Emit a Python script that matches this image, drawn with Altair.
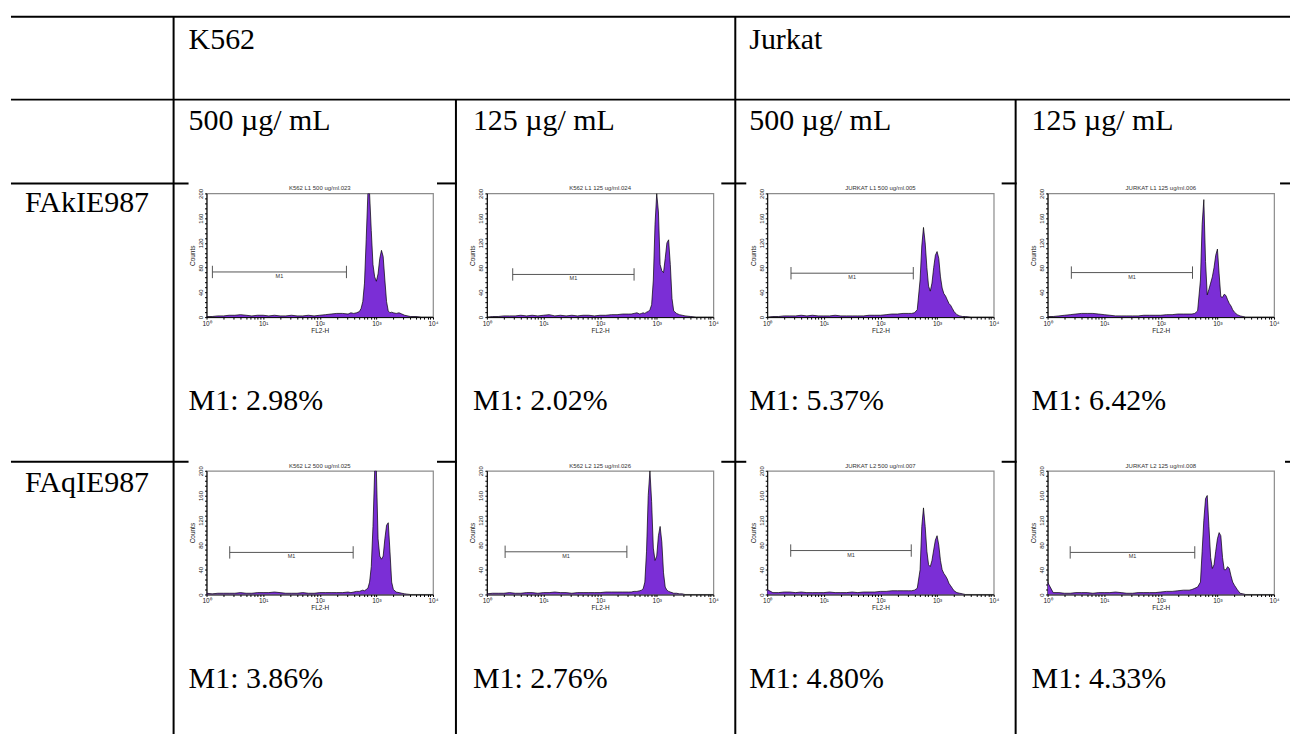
import math
import altair as alt
import pandas as pd

# ---------------- data ----------------
LOG_FL2 = [0.0, 0.1, 0.2, 0.3, 0.4, 0.5, 0.6, 0.7, 0.8, 0.9, 1.0, 1.1, 1.2, 1.3, 1.4, 1.5,
           1.6, 1.7, 1.8, 1.9, 2.0, 2.1, 2.2, 2.3, 2.4, 2.5,
           2.55, 2.6, 2.65, 2.7, 2.73, 2.76, 2.79, 2.82, 2.85, 2.88, 2.91, 2.94, 2.97,
           3.0, 3.03, 3.06, 3.09, 3.12, 3.15, 3.18, 3.21, 3.24, 3.27, 3.3,
           3.35, 3.4, 3.45, 3.5, 3.6, 3.7, 3.8, 3.9, 4.0]

K562_L1_500 = [1, 1, 2, 2, 3, 3, 4, 3, 2, 3, 3, 2, 3, 2, 2, 3, 2, 2, 3, 2, 3, 4, 5, 6, 6, 5,
               7, 6, 7, 9, 14, 25, 55, 125, 200, 200, 140, 85, 65, 58, 70, 95, 108, 98, 60, 25,
               10, 7, 8, 7, 6, 7, 5, 3, 1, 1, 0, 0, 0]
K562_L1_125 = [0, 1, 1, 2, 2, 2, 3, 2, 3, 2, 3, 4, 2, 3, 2, 3, 2, 3, 3, 2, 3, 3, 4, 4, 5, 5,
               5, 6, 7, 5, 6, 7, 6, 8, 9, 12, 20, 60, 150, 200, 170, 85, 75, 72, 95, 120,
               125, 85, 30, 10, 6, 4, 3, 2, 1, 0, 0, 0, 0]
JURKAT_L1_500 = [0, 1, 1, 2, 2, 2, 3, 2, 3, 2, 2, 2, 3, 2, 2, 2, 2, 2, 3, 3, 3, 4, 5, 5, 6, 6,
                 6, 7, 12, 60, 115, 145, 120, 80, 50, 42, 55, 80, 100, 106, 95, 65, 47, 38, 34, 28,
                 22, 19, 14, 9, 4, 2, 1, 1, 0, 0, 0, 0, 0]
JURKAT_L1_125 = [1, 1, 2, 3, 4, 5, 6, 6, 6, 5, 4, 3, 2, 2, 2, 2, 2, 3, 3, 3, 3, 4, 4, 5, 5, 5,
                 5, 6, 10, 60, 150, 190, 90, 36, 45, 55, 65, 80, 100, 110, 70, 33, 32, 37, 35, 28,
                 22, 18, 12, 8, 4, 2, 1, 0, 0, 0, 0, 0, 0]
K562_L2_500 = [2, 1, 2, 2, 2, 2, 3, 2, 2, 3, 3, 3, 4, 3, 2, 2, 2, 3, 2, 2, 3, 3, 3, 3, 3, 4,
               3, 4, 5, 5, 6, 7, 6, 8, 10, 20, 45, 110, 200, 200, 90, 62, 57, 62, 90, 112,
               116, 70, 20, 8, 4, 3, 2, 1, 0, 0, 0, 0, 0]
K562_L2_125 = [1, 2, 2, 2, 3, 2, 2, 3, 3, 2, 3, 3, 4, 3, 3, 2, 3, 3, 3, 3, 3, 4, 4, 4, 4, 4,
               4, 5, 5, 6, 7, 9, 20, 70, 160, 200, 150, 75, 55, 62, 95, 110, 85, 35, 12, 7,
               5, 4, 3, 2, 2, 1, 1, 0, 0, 0, 0, 0, 0]
JURKAT_L2_500 = [8, 3, 3, 4, 4, 3, 4, 3, 3, 3, 3, 4, 3, 3, 3, 4, 3, 4, 4, 4, 5, 5, 6, 6, 6, 6,
                 6, 7, 10, 40, 110, 140, 110, 70, 48, 45, 55, 72, 88, 95, 80, 55, 40, 34, 30, 25,
                 18, 14, 10, 6, 3, 2, 1, 0, 0, 0, 0, 0, 0]
JURKAT_L2_125 = [20, 3, 3, 2, 2, 3, 3, 3, 2, 3, 3, 3, 4, 3, 2, 2, 3, 3, 3, 3, 4, 5, 5, 6, 7, 7,
                 8, 10, 12, 20, 70, 120, 155, 160, 110, 60, 42, 48, 70, 90, 100, 95, 60, 40, 40, 45,
                 42, 30, 20, 15, 8, 2, 1, 0, 0, 0, 0, 0, 0]

SERIES = [K562_L1_500, K562_L1_125, JURKAT_L1_500, JURKAT_L1_125,
          K562_L2_500, K562_L2_125, JURKAT_L2_500, JURKAT_L2_125]
for s in SERIES:
    assert len(s) == len(LOG_FL2)

TITLES = ["K562 L1 500 ug/ml.023", "K562 L1 125 ug/ml.024",
          "JURKAT L1 500 ug/ml.005", "JURKAT L1 125 ug/ml.006",
          "K562 L2 500 ug/ml.025", "K562 L2 125 ug/ml.026",
          "JURKAT L2 500 ug/ml.007", "JURKAT L2 125 ug/ml.008"]
M1_LO = [1.27, 2.86, 2.63, 2.63, 2.57, 2.1, 2.6, 2.51]
M1_HI = [296, 398, 380, 363, 389, 297, 350, 398]
M1_Y = [73, 69, 71, 72, 68, 69, 71, 68]
M1_PCT = ["M1: 2.98%", "M1: 2.02%", "M1: 5.37%", "M1: 6.42%",
          "M1: 3.86%", "M1: 2.76%", "M1: 4.80%", "M1: 4.33%"]

CELL_LINES = ["K562", "Jurkat"]
CONCS = ["500 µg/ mL", "125 µg/ mL", "500 µg/ mL", "125 µg/ mL"]
ROW_LABELS = ["FAkIE987", "FAqIE987"]

# ---------------- layout / style ----------------
W, H = 227, 124
COL_GAP, ROW_GAP = 54, 154
X0 = [206 + c * (W + COL_GAP) for c in range(4)]
Y0 = [192, 192 + H + ROW_GAP]
TX = [188, 473, 750, 1033]
SERIF = "Liberation Serif"
SANS = "Liberation Sans"
BIG = 30
PURPLE = "#7b2ed6"
ONE = alt.Data(values=[{"k": 0}])

XTICKS = [k * 10 ** d for d in range(4) for k in range(1, 10)] + [10000]
YTICKS = list(range(0, 201, 8))

xax = alt.Axis(values=XTICKS, title="FL2-H", grid=False, tickSize=2, labelFontSize=6.5,
               labelPadding=1, titleFontSize=6.5, titlePadding=1, labelOverlap=False,
               titleFontWeight="normal",
               labelFlush=False, domainColor="black", tickColor="black",
               labelExpr="datum.value == 1 ? '10⁰' : datum.value == 10 ? '10¹' : "
                         "datum.value == 100 ? '10²' : datum.value == 1000 ? '10³' : "
                         "datum.value == 10000 ? '10⁴' : ''")
yax = alt.Axis(values=YTICKS, title="Counts", grid=False, tickSize=2, labelFontSize=6,
               labelPadding=1, titleFontSize=6.5, titlePadding=2, labelOverlap=False,
               titleFontWeight="normal",
               labelFlush=False, labelAngle=270, domainColor="black", tickColor="black",
               labelExpr="datum.value % 40 == 0 ? datum.label : ''")
xs = alt.Scale(type="log", domain=[1, 10000])
ys = alt.Scale(domain=[0, 200])


def text_at(txt, px, py, ox, oy, size=BIG):
    return alt.Chart(ONE).mark_text(text=txt, align="left", baseline="alphabetic",
                                    font=SERIF, fontSize=size, color="black").encode(
        x=alt.value(px - ox), y=alt.value(py - oy))


def hline(y, x1, x2, ox, oy):
    return alt.Chart(ONE).mark_rule(color="black", strokeWidth=2).encode(
        x=alt.value(x1 - ox), x2=alt.value(x2 - ox), y=alt.value(y - oy))


def vline(x, y1, y2, ox, oy):
    return alt.Chart(ONE).mark_rule(color="black", strokeWidth=2).encode(
        x=alt.value(x - ox), y=alt.value(y1 - oy), y2=alt.value(y2 - oy))


def table_layers(ox, oy):
    L = []
    # anchor for page origin
    L.append(alt.Chart(ONE).mark_rule(color="white", strokeWidth=0.2).encode(
        x=alt.value(-ox), x2=alt.value(-ox + 1), y=alt.value(-oy)))
    L.append(hline(15, 10, 1292, ox, oy))
    L.append(hline(98, 10, 1292, ox, oy))
    for yy, last in ((182, 1282), (461, 1287)):
        for a, b in ((10, 188), (437, 457), (722, 747), (1003, 1018), (last, 1292)):
            L.append(hline(yy, a, b, ox, oy))
    L.append(vline(173, 15, 734, ox, oy))
    L.append(vline(456, 98, 734, ox, oy))
    L.append(vline(736, 15, 734, ox, oy))
    L.append(vline(1017, 98, 734, ox, oy))
    L.append(text_at(CELL_LINES[0], TX[0], 47, ox, oy))
    L.append(text_at(CELL_LINES[1], TX[2], 47, ox, oy))
    for c in range(4):
        L.append(text_at(CONCS[c], TX[c], 128, ox, oy))
    L.append(text_at(ROW_LABELS[0], 24, 211, ox, oy))
    L.append(text_at(ROW_LABELS[1], 24, 491, ox, oy))
    return L


def panel(r, c):
    i = r * 4 + c
    ox, oy = X0[c], Y0[r]
    df = pd.DataFrame({"fl": [10 ** e for e in LOG_FL2], "counts": SERIES[i]})
    X = alt.X("fl:Q", scale=xs, axis=xax)
    Y = alt.Y("counts:Q", scale=ys, axis=yax)
    area = alt.Chart(df).mark_area(color=PURPLE, clip=True).encode(x=X, y=Y)
    line = alt.Chart(df).mark_line(color="black", strokeWidth=0.7, clip=True).encode(x=X, y=Y)
    g = pd.DataFrame({"lo": [M1_LO[i]], "hi": [M1_HI[i]], "y": [M1_Y[i]],
                      "ya": [M1_Y[i] - 10], "yb": [M1_Y[i] + 10],
                      "mid": [math.sqrt(M1_LO[i] * M1_HI[i])]})
    gx = alt.X("lo:Q", scale=xs, axis=xax)
    gy = alt.Y("y:Q", scale=ys, axis=yax)
    bar = alt.Chart(g).mark_rule(color="#555", strokeWidth=1).encode(x=gx, x2="hi:Q", y=gy)
    capl = alt.Chart(g).mark_rule(color="#555", strokeWidth=1).encode(
        x=gx, y=alt.Y("ya:Q", scale=ys, axis=yax), y2="yb:Q")
    capr = alt.Chart(g).mark_rule(color="#555", strokeWidth=1).encode(
        x=alt.X("hi:Q", scale=xs, axis=xax), y=alt.Y("ya:Q", scale=ys, axis=yax), y2="yb:Q")
    lab = alt.Chart(g).mark_text(text="M1", fontSize=5.5, font=SANS, baseline="top", dy=2,
                                 color="#333").encode(
        x=alt.X("mid:Q", scale=xs, axis=xax), y=gy)
    title = alt.Chart(ONE).mark_text(text=TITLES[i], fontSize=6, font=SANS, baseline="bottom",
                                     color="#333").encode(x=alt.value(W / 2), y=alt.value(-2))
    pct = text_at(M1_PCT[i], TX[c], [409, 688][r], ox, oy)
    layers = [area, line, bar, capl, capr, lab, title, pct]
    if r == 0 and c == 0:
        layers += table_layers(ox, oy)
    return alt.layer(*layers).properties(width=W, height=H)


panels = [panel(r, c) for r in range(2) for c in range(4)]
chart = alt.concat(*panels, columns=4, spacing={"row": ROW_GAP, "column": COL_GAP},
                   bounds="flush").properties(padding=0).configure_view(
    stroke="#8c8c8c", strokeWidth=1.2).configure_axis(labelFont=SANS, titleFont=SANS,
                                                       labelColor="#222", titleColor="#222")

chart.save("out.html", embed_options={"renderer": "svg", "actions": False})
